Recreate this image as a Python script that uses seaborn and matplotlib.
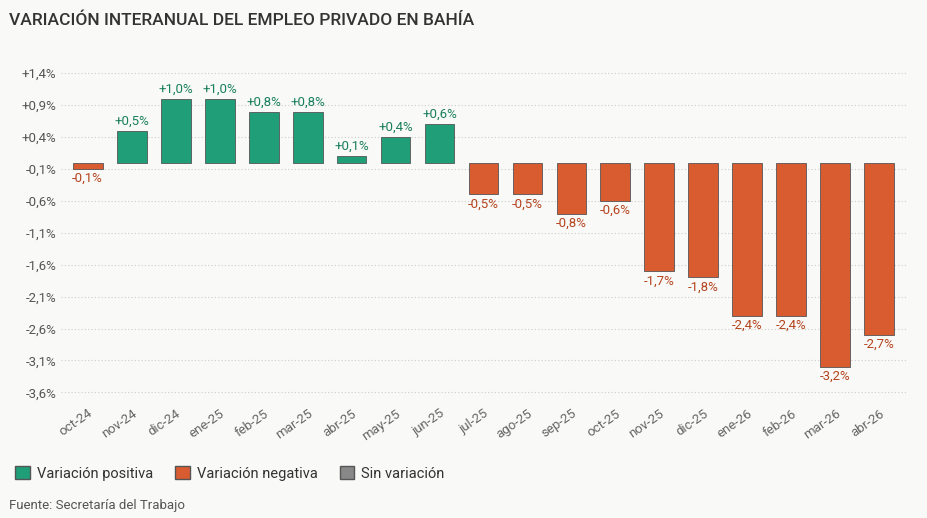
import matplotlib
matplotlib.use("Agg")
import matplotlib.pyplot as plt
import seaborn as sns
import pandas as pd
from matplotlib.patches import Patch

meses = ["oct-24", "nov-24", "dic-24", "ene-25", "feb-25", "mar-25", "abr-25", "may-25", "jun-25",
         "jul-25", "ago-25", "sep-25", "oct-25", "nov-25", "dic-25", "ene-26", "feb-26", "mar-26", "abr-26"]
valores = [-0.1, 0.5, 1.0, 1.0, 0.8, 0.8, 0.1, 0.4, 0.6,
           -0.5, -0.5, -0.8, -0.6, -1.7, -1.8, -2.4, -2.4, -3.2, -2.7]
ticks = [1.4, 0.9, 0.4, -0.1, -0.6, -1.1, -1.6, -2.1, -2.6, -3.1, -3.6]

verde = "#1f9e78"
naranja = "#d95b30"
gris = "#888888"
fondo = "#f9f9f7"

df = pd.DataFrame({"mes": meses, "valor": valores})
df["signo"] = ["pos" if v > 0 else ("neg" if v < 0 else "cero") for v in valores]

sns.set_style("white")
plt.rcParams["font.family"] = ["Roboto", "DejaVu Sans"]

fig = plt.figure(figsize=(9.28, 5.18), dpi=100, facecolor=fondo)
ax = fig.add_axes([0.066, 0.224, 0.91, 0.647], facecolor=fondo)

sns.barplot(data=df, x="mes", y="valor", hue="signo",
            palette={"pos": verde, "neg": naranja, "cero": gris}, saturation=1,
            dodge=False, width=0.68, edgecolor="#555555", linewidth=0.6,
            legend=False, ax=ax)

for i, v in enumerate(valores):
    txt = ("+" if v > 0 else "") + f"{v:.1f}".replace(".", ",") + "%"
    if v > 0:
        ax.text(i, v + 0.05, txt, ha="center", va="bottom", fontsize=9.5, color="#1a7f5f")
    else:
        ax.text(i, v - 0.05, txt, ha="center", va="top", fontsize=9.5, color="#b5441f")

ax.set_ylim(-3.75, 1.5)
ax.set_yticks(ticks)
ax.set_yticklabels([("+" if t > 0 else "") + f"{t:.1f}".replace(".", ",") + "%" for t in ticks],
                   fontsize=9.5, color="#555555")
ax.set_xlim(-0.6, len(meses) - 0.4)
ax.tick_params(axis="x", rotation=35, labelsize=9.5, labelcolor="#666666", length=0)
ax.tick_params(axis="y", length=0)
for lab in ax.get_xticklabels():
    lab.set_ha("right")
    lab.set_rotation_mode("anchor")
ax.grid(axis="y", linestyle=(0, (1, 2)), color="#cccccc", linewidth=0.8)
ax.set_axisbelow(True)
for s in ax.spines.values():
    s.set_visible(False)
ax.set_xlabel("")
ax.set_ylabel("")

fig.text(0.01, 0.96, "VARIACIÓN INTERANUAL DEL EMPLEO PRIVADO EN BAHÍA",
         fontsize=12.5, color="#333333", fontweight="medium", va="center")

handles = [Patch(facecolor=verde, edgecolor="#555555", label="Variación positiva"),
           Patch(facecolor=naranja, edgecolor="#555555", label="Variación negativa"),
           Patch(facecolor=gris, edgecolor="#555555", label="Sin variación")]
fig.legend(handles=handles, loc="center left", bbox_to_anchor=(0.002, 0.086), ncol=3,
           frameon=False, fontsize=10.5, handlelength=1.0, handleheight=1.0,
           handletextpad=0.5, columnspacing=1.5, labelcolor="#333333")
fig.text(0.01, 0.025, "Fuente: Secretaría del Trabajo", fontsize=9.5, color="#555555", va="center")

fig.savefig("out.png", dpi=100, facecolor=fondo)
